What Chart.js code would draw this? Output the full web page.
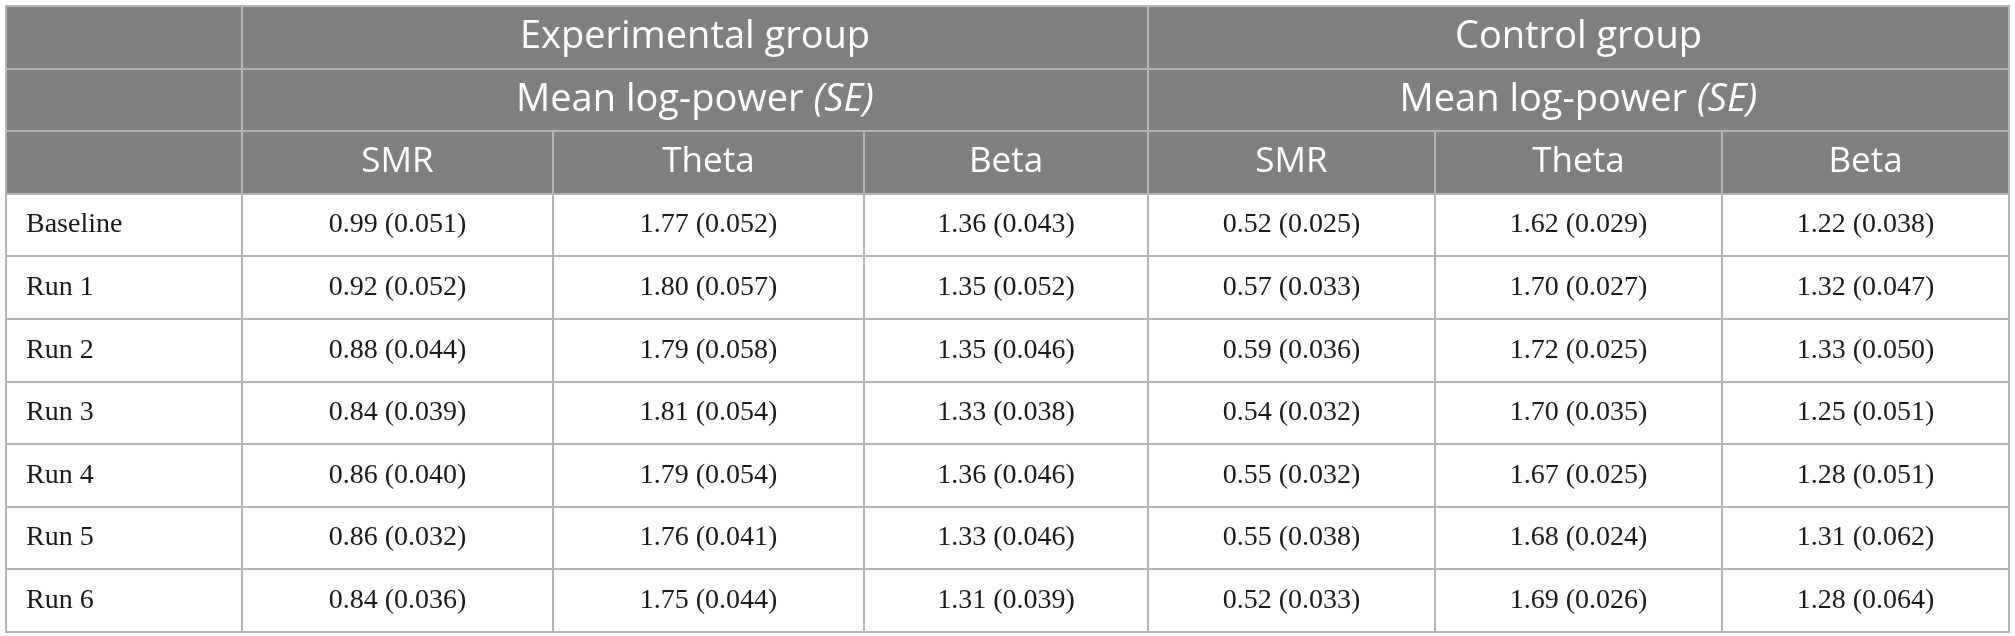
<!DOCTYPE html>
<html>
<head>
<meta charset="utf-8">
<script src="https://cdn.jsdelivr.net/npm/chart.js@4"></script>
<style>
  html, body { margin: 0; padding: 0; background: #fff; }
  #wrap { width: 2015px; height: 636px; }
</style>
</head>
<body>
<div id="wrap"><canvas id="tableChart" width="2015" height="636"></canvas></div>
<script>
// Table contents
const groups = ["Experimental group", "Control group"]
const measureLabel = "Mean log-power "
const measureUnit = "(SE)"
const bands = ["SMR", "Theta", "Beta"]
const rowLabels = ["Baseline", "Run 1", "Run 2", "Run 3", "Run 4", "Run 5", "Run 6"]

const expSmrMean = [0.99, 0.92, 0.88, 0.84, 0.86, 0.86, 0.84]
const expSmrSE = [0.051, 0.052, 0.044, 0.039, 0.040, 0.032, 0.036]
const expThetaMean = [1.77, 1.80, 1.79, 1.81, 1.79, 1.76, 1.75]
const expThetaSE = [0.052, 0.057, 0.058, 0.054, 0.054, 0.041, 0.044]
const expBetaMean = [1.36, 1.35, 1.35, 1.33, 1.36, 1.33, 1.31]
const expBetaSE = [0.043, 0.052, 0.046, 0.038, 0.046, 0.046, 0.039]

const ctrlSmrMean = [0.52, 0.57, 0.59, 0.54, 0.55, 0.55, 0.52]
const ctrlSmrSE = [0.025, 0.033, 0.036, 0.032, 0.032, 0.038, 0.033]
const ctrlThetaMean = [1.62, 1.70, 1.72, 1.70, 1.67, 1.68, 1.69]
const ctrlThetaSE = [0.029, 0.027, 0.025, 0.035, 0.025, 0.024, 0.026]
const ctrlBetaMean = [1.22, 1.32, 1.33, 1.25, 1.28, 1.31, 1.28]
const ctrlBetaSE = [0.038, 0.047, 0.050, 0.051, 0.051, 0.062, 0.064]

// Layout (x units = table pixels, y units = rows)
const colEdges = [0, 236, 547, 858, 1142, 1429, 1716, 2003]
const headerRows = 3
const totalRows = headerRows + rowLabels.length

const HEADER_BG = "#808080"
const LINE = "#b5b5b5"
const HEADER_FONT = "38px 'Open Sans'"
const HEADER_FONT_IT = "italic 38px 'Open Sans'"
const BAND_FONT = "35px 'Open Sans'"
const BODY_FONT = "28px 'Liberation Serif'"

const columns = [
  [expSmrMean, expSmrSE], [expThetaMean, expThetaSE], [expBetaMean, expBetaSE],
  [ctrlSmrMean, ctrlSmrSE], [ctrlThetaMean, ctrlThetaSE], [ctrlBetaMean, ctrlBetaSE],
]

function colCenter(i) {
  return (colEdges[i] + colEdges[i + 1]) / 2
}

const datasets = columns.map(([means, ses], c) => ({
  label: bands[c % 3],
  data: means.map((m, r) => ({ x: colCenter(c + 1), y: headerRows + r + 0.5, m: m, se: ses[r] })),
  pointRadius: 0,
  pointHoverRadius: 0,
}))

const tablePlugin = {
  id: "tablePlugin",
  beforeDatasetsDraw(chart) {
    const { ctx, scales: { x, y } } = chart
    const left = x.getPixelForValue(colEdges[0])
    const right = x.getPixelForValue(colEdges[colEdges.length - 1])
    const top = y.getPixelForValue(0)
    const hdrBottom = y.getPixelForValue(headerRows)
    const bottom = y.getPixelForValue(totalRows)
    ctx.save()
    ctx.fillStyle = "#fff"
    ctx.fillRect(left, top, right - left, bottom - top)
    ctx.fillStyle = HEADER_BG
    ctx.fillRect(left, top, right - left, hdrBottom - top)

    ctx.strokeStyle = LINE
    ctx.lineWidth = 2
    ctx.beginPath()
    for (let r = 0; r <= totalRows; r++) {
      const py = Math.round(y.getPixelForValue(r))
      ctx.moveTo(left, py)
      ctx.lineTo(right, py)
    }
    colEdges.forEach((e, i) => {
      const px = Math.round(x.getPixelForValue(e))
      // group-level lines run through all header rows, band lines start at the band row
      const full = i === 0 || i === 1 || i === 4 || i === colEdges.length - 1
      ctx.moveTo(px, full ? top - 1 : y.getPixelForValue(2))
      ctx.lineTo(px, bottom + 1)
    })
    ctx.stroke()

    // header text
    ctx.fillStyle = "#fff"
    ctx.textBaseline = "middle"
    ctx.textAlign = "center"
    groups.forEach((g, gi) => {
      const cx = x.getPixelForValue((colEdges[1 + gi * 3] + colEdges[4 + gi * 3]) / 2)
      ctx.font = HEADER_FONT
      ctx.fillText(g, cx, y.getPixelForValue(0.5))
      // measure row with italic unit
      ctx.textAlign = "left"
      const w1 = ctx.measureText(measureLabel).width
      ctx.font = HEADER_FONT_IT
      const w2 = ctx.measureText(measureUnit).width
      const sx = cx - (w1 + w2) / 2
      const my = y.getPixelForValue(1.5)
      ctx.font = HEADER_FONT
      ctx.fillText(measureLabel, sx, my)
      ctx.font = HEADER_FONT_IT
      ctx.fillText(measureUnit, sx + w1, my)
      ctx.textAlign = "center"
      ctx.font = BAND_FONT
      bands.forEach((b, bi) => {
        ctx.fillText(b, x.getPixelForValue(colCenter(1 + gi * 3 + bi)), y.getPixelForValue(2.5))
      })
    })

    // row labels
    ctx.fillStyle = "#1a1a1a"
    ctx.font = BODY_FONT
    ctx.textAlign = "left"
    rowLabels.forEach((lab, r) => {
      ctx.fillText(lab, left + 20, y.getPixelForValue(headerRows + r + 0.5))
    })
    ctx.restore()
  },
  afterDatasetsDraw(chart) {
    const { ctx } = chart
    ctx.save()
    ctx.fillStyle = "#1a1a1a"
    ctx.font = BODY_FONT
    ctx.textAlign = "center"
    ctx.textBaseline = "middle"
    chart.data.datasets.forEach((ds, di) => {
      chart.getDatasetMeta(di).data.forEach((pt, i) => {
        const d = ds.data[i]
        ctx.fillText(`${d.m.toFixed(2)} (${d.se.toFixed(3)})`, pt.x, pt.y)
      })
    })
    ctx.restore()
  },
}

document.fonts.load(HEADER_FONT).then(() => document.fonts.load(BODY_FONT)).finally(() => {
  new Chart(document.getElementById("tableChart"), {
    type: "scatter",
    data: { datasets: datasets },
    options: {
      responsive: false,
      animation: false,
      events: [],
      layout: { padding: { left: 6, right: 6, top: 6, bottom: 4 } },
      plugins: { legend: { display: false }, tooltip: { enabled: false } },
      scales: {
        x: { type: "linear", display: false, min: 0, max: colEdges[colEdges.length - 1] },
        y: { type: "linear", display: false, min: 0, max: totalRows, reverse: true },
      },
    },
    plugins: [tablePlugin],
  })
})
</script>
</body>
</html>
